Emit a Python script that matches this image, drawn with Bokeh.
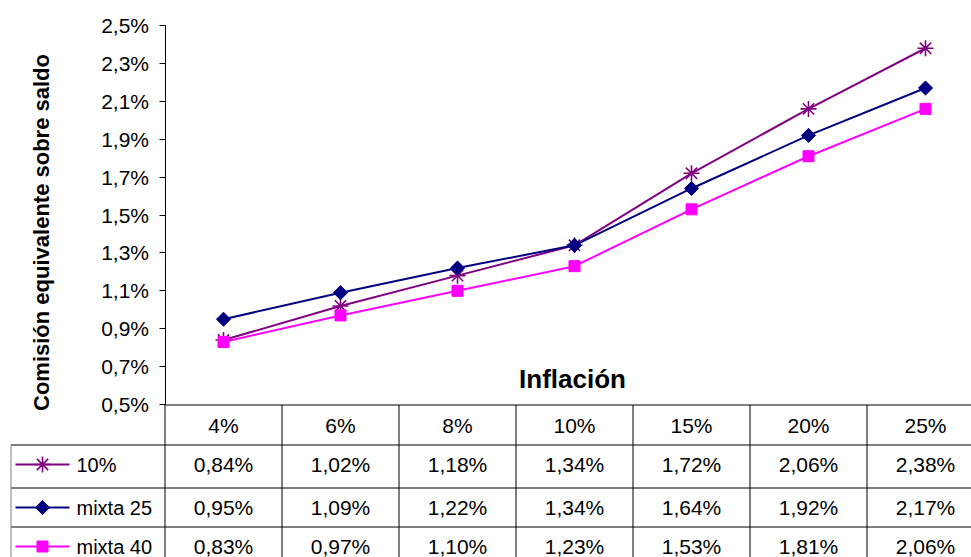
import math
from bokeh.plotting import figure
from bokeh.models import (Range1d, FixedTicker, CustomJSTickFormatter, Label,
                          LinearAxis)
from bokeh.core.properties import value
from bokeh.embed import file_html
from bokeh.resources import INLINE

# ---- data -------------------------------------------------------------
categories = ["4%", "6%", "8%", "10%", "15%", "20%", "25%"]
series_names = ["10%", "mixta 25", "mixta 40"]
s_10 = [0.84, 1.02, 1.18, 1.34, 1.72, 2.06, 2.38]
s_mixta25 = [0.95, 1.09, 1.22, 1.34, 1.64, 1.92, 2.17]
s_mixta40 = [0.83, 0.97, 1.10, 1.23, 1.53, 1.81, 2.06]
y_ticks = [0.5, 0.7, 0.9, 1.1, 1.3, 1.5, 1.7, 1.9, 2.1, 2.3, 2.5]

# ---- styling / layout -------------------------------------------------
FONT = "Liberation Sans"
W, H = 971, 557
LEFT = 164.5        # left edge of plot area (px)
COL = 117           # width of one category column (px)
TOP = 25            # y of the 2,5% level (px)
BASE = 404          # y of the 0,5% line / top of data table (px)
ROW_EDGES = [0, 40, 83, 122, 170]   # table row boundaries, px below the table top
ROW_TEXT_OFFSET = 19.5              # text centre below each row's top rule
LEGEND_X0 = 10.5    # left edge of legend cells (px)

styles = [
    dict(color="#800080", marker="asterisk", size=16, line_width=1.6),
    dict(color="#000080", marker="square", size=10, angle=math.pi / 4),
    dict(color="#FF00FF", marker="square", size=11),
]
series = [s_10, s_mixta25, s_mixta40]
xs = list(range(len(categories)))


def px_x(px):
    """category-axis coordinate of a horizontal pixel position"""
    return -0.5 + (px - LEFT) / COL


ppu = (BASE - TOP) / 2.0          # pixels per 1 % on the value axis
x0 = px_x(0)
y_lo = 0.5 - (H - BASE) / ppu
y_hi = 2.5 + TOP / ppu

p = figure(width=W, height=H, x_range=Range1d(x0, x0 + W / COL),
           y_range=Range1d(y_lo, y_hi), x_axis_type=None, y_axis_type=None,
           output_backend="svg", toolbar_location=None, min_border=0)
p.outline_line_color = None
p.background_fill_color = "white"
p.border_fill_color = "white"
# table rows are laid out in pixel-like units below the chart
p.extra_y_ranges = {"table": Range1d(H - BASE - 0.5, -BASE - 0.5)}

# ---- value axis ---------------------------------------------------------
ax = LinearAxis(fixed_location=-0.5, bounds=(0.5, 2.5),
                ticker=FixedTicker(ticks=y_ticks),
                formatter=CustomJSTickFormatter(
                    code="return tick.toFixed(1).replace('.', ',') + '%';"))
ax.major_label_text_font = FONT
ax.major_label_text_font_size = "21px"
ax.major_label_text_color = "black"
ax.major_label_standoff = 10
ax.major_tick_out = 6
ax.major_tick_in = 0
ax.minor_tick_line_color = None
ax.axis_line_color = "black"
ax.major_tick_line_color = "black"
p.add_layout(ax, "left")


def marker_kw(st):
    kw = dict(marker=st["marker"], size=st["size"], line_color=st["color"],
              fill_color=st["color"])
    if "angle" in st:
        kw["angle"] = st["angle"]
    if "line_width" in st:
        kw["line_width"] = st["line_width"]
    return kw


# ---- series -----------------------------------------------------------
for vals, st in zip(series, styles):
    p.line(xs, vals, line_color=st["color"], line_width=2)
    p.scatter(xs, vals, **marker_kw(st))

# axis titles
p.add_layout(Label(x=px_x(41), y=0.5 + (BASE - 232) / ppu,
                   text="Comisión equivalente sobre saldo", angle=math.pi / 2,
                   text_align="center", text_baseline="middle",
                   text_font=FONT, text_font_style="bold",
                   text_font_size="22px", text_color="black"))
p.add_layout(Label(x=px_x(572), y=0.5 + (BASE - 378) / ppu,
                   text="Inflación", text_align="center",
                   text_baseline="alphabetic", text_font=FONT,
                   text_font_style="bold", text_font_size="26px",
                   text_color="black"))

# ---- data table -------------------------------------------------------
leg_x0 = px_x(LEGEND_X0)
grid_end = x0 + W / COL + 1
bottom = ROW_EDGES[-1]
T = dict(y_range_name="table")

# horizontal rules
hy = ROW_EDGES[:-1]
hx0 = [-0.5] + [leg_x0] * (len(hy) - 1)
p.segment(x0=hx0, y0=hy, x1=[grid_end] * len(hy), y1=hy,
          line_color="black", line_width=1, **T)
# vertical rules
vx = [i - 0.5 for i in range(len(categories) + 1)]
p.segment(x0=vx, y0=[0] * len(vx), x1=vx, y1=[bottom] * len(vx),
          line_color="black", line_width=1, **T)
p.segment(x0=[leg_x0], y0=[ROW_EDGES[1]], x1=[leg_x0], y1=[bottom],
          line_color="#808080", line_width=1, **T)

# header row
hdr_y = (ROW_EDGES[0] + ROW_EDGES[1]) / 2
p.text(x=xs, y=[hdr_y] * len(xs), text=categories, text_align="center",
       text_baseline="middle", text_font=value(FONT),
       text_font_size="21px", text_color="black", **T)

# value rows with legend keys
kx0, kx1 = px_x(15), px_x(69)
for r, (name, vals, st) in enumerate(zip(series_names, series, styles)):
    cy = ROW_EDGES[r + 1] + ROW_TEXT_OFFSET
    labels = [f"{v:.2f}".replace(".", ",") + "%" for v in vals]
    p.text(x=xs, y=[cy] * len(xs), text=labels, text_align="center",
           text_baseline="middle", text_font=value(FONT),
           text_font_size="21px", text_color="black", **T)
    p.line([kx0, kx1], [cy, cy], line_color=st["color"], line_width=2, **T)
    p.scatter([(kx0 + kx1) / 2], [cy], **marker_kw(st), **T)
    p.text(x=[px_x(76)], y=[cy], text=[name], text_align="left",
           text_baseline="middle", text_font=value(FONT),
           text_font_size="20px", text_color="black", **T)

open("out.html", "w").write(file_html(p, INLINE))
